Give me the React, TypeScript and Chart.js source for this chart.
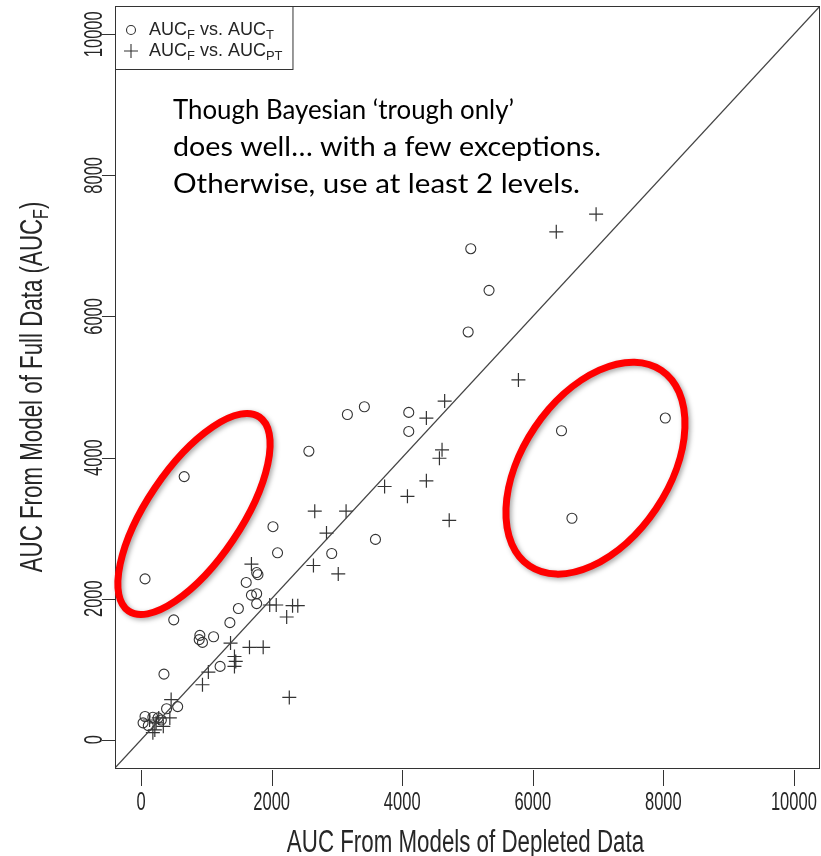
import React, { useEffect, useRef } from "react";
import { Chart, registerables } from "chart.js";

Chart.register(...registerables);

// AUC_F vs. AUC_T (open circles)
const circleX = [60, 660, 500, 350, 1360, 1490, 1770, 1690, 1770, 1610, 1770, 1790, 2020, 2090, 2570, 3160, 3420, 4100, 4100, 2920, 3590, 5050, 5330, 5010, 6440, 8030, 6600, 900, 890, 940, 1110, 1210, 560, 390, 60, 30, 110, 180, 260, 310];
const circleY = [2280, 3730, 1700, 930, 1660, 1860, 1930, 2050, 2070, 2230, 2370, 2340, 3020, 2650, 4090, 4610, 4720, 4640, 4370, 2640, 2840, 6960, 6370, 5780, 4380, 4560, 3140, 1480, 1420, 1380, 1460, 1040, 470, 440, 330, 240, 200, 320, 310, 280];

// AUC_F vs. AUC_PT (plus signs)
const crossX = [6970, 6360, 5780, 4650, 4370, 4610, 4570, 4370, 4080, 3730, 4720, 2660, 3140, 2840, 2640, 3020, 1690, 1970, 2070, 2320, 2400, 2230, 1370, 1660, 1870, 1430, 1450, 1430, 1030, 940, 460, 2270, 440, 130, 230, 210, 340, 180, 270];
const crossY = [7450, 7200, 5100, 4800, 4560, 4110, 3990, 3670, 3450, 3590, 3110, 3240, 3240, 2930, 2470, 2350, 2490, 1910, 1910, 1900, 1900, 1740, 1370, 1310, 1310, 1180, 1110, 1040, 960, 780, 570, 600, 310, 280, 240, 140, 190, 100, 310];

const identityLine = [-400, 10400];
const axisMin = -400;
const axisMax = 10400;
const tickValues = [0, 2000, 4000, 6000, 8000, 10000];
const tickLabels = ["0", "2000", "4000", "6000", "8000", "10000"];

const xTitle = "AUC From Models of Depleted Data";
const yTitleParts = [
  { t: "AUC From Model of Full Data (AUC" },
  { t: "F", sub: true },
  { t: ")" },
];
const legendRows = [
  { symbol: "circle", parts: [{ t: "AUC" }, { t: "F", sub: true }, { t: " vs. AUC" }, { t: "T", sub: true }] },
  { symbol: "cross", parts: [{ t: "AUC" }, { t: "F", sub: true }, { t: " vs. AUC" }, { t: "PT", sub: true }] },
];
const noteLines = [
  "Though Bayesian \u2018trough only\u2019",
  "does well\u2026 with a few exceptions.",
  "Otherwise, use at least 2 levels.",
];
// highlight ellipses: centre in data units
const ellipseCX = [810, 6960];
const ellipseCY = [3200, 3850];

const AXIS_FONT = "'Liberation Sans', Arial, sans-serif";
const INK = "#262626";

type Part = { t: string; sub?: boolean };

function richWidth(ctx: CanvasRenderingContext2D, parts: Part[], size: number) {
  let w = 0;
  for (const p of parts) {
    ctx.font = `${p.sub ? size * 0.72 : size}px ${AXIS_FONT}`;
    w += ctx.measureText(p.t).width;
  }
  return w;
}

function drawRich(ctx: CanvasRenderingContext2D, parts: Part[], x: number, y: number, size: number) {
  let cx = x;
  ctx.textAlign = "left";
  ctx.textBaseline = "middle";
  for (const p of parts) {
    ctx.font = `${p.sub ? size * 0.72 : size}px ${AXIS_FONT}`;
    ctx.fillText(p.t, cx, p.sub ? y + size * 0.3 : y);
    cx += ctx.measureText(p.t).width;
  }
}

const overlay = {
  id: "overlay",
  afterDraw(chart: any) {
    const { ctx, chartArea: ca, scales } = chart;
    const xs = scales.x;
    const ys = scales.y;
    ctx.save();

    // plot box
    ctx.strokeStyle = "#333";
    ctx.lineWidth = 1;
    ctx.strokeRect(ca.left + 0.5, ca.top + 0.5, ca.right - ca.left - 1, ca.bottom - ca.top);

    // ticks
    ctx.beginPath();
    tickValues.forEach((v) => {
      const px = Math.round(xs.getPixelForValue(v)) + 0.5;
      ctx.moveTo(px, ca.bottom + 2);
      ctx.lineTo(px, ca.bottom + 18);
      const py = Math.round(ys.getPixelForValue(v)) + 0.5;
      ctx.moveTo(ca.left, py);
      ctx.lineTo(ca.left - 13, py);
    });
    ctx.stroke();

    // tick labels (narrow look)
    ctx.fillStyle = INK;
    const tSize = 25;
    const tScale = 0.66;
    ctx.font = `${tSize}px ${AXIS_FONT}`;
    ctx.textAlign = "center";
    ctx.textBaseline = "middle";
    tickValues.forEach((v, i) => {
      const px = xs.getPixelForValue(v);
      ctx.save();
      ctx.translate(px, ca.bottom + 35);
      ctx.scale(tScale, 1);
      ctx.fillText(tickLabels[i], 0, 0);
      ctx.restore();
      const py = ys.getPixelForValue(v);
      ctx.save();
      ctx.translate(ca.left - 20, py);
      ctx.rotate(-Math.PI / 2);
      ctx.scale(tScale, 1);
      ctx.fillText(tickLabels[i], 0, 0);
      ctx.restore();
    });

    // axis titles
    const tiSize = 31;
    const tiScale = 0.72;
    ctx.save();
    ctx.translate((ca.left + ca.right) / 2 - 2, ca.bottom + 75);
    ctx.scale(tiScale, 1);
    ctx.font = `${tiSize}px ${AXIS_FONT}`;
    ctx.textAlign = "center";
    ctx.fillText(xTitle, 0, 0);
    ctx.restore();

    ctx.save();
    ctx.translate(ca.left - 82, (ca.top + ca.bottom) / 2);
    ctx.rotate(-Math.PI / 2);
    ctx.scale(tiScale, 1);
    const yw = richWidth(ctx, yTitleParts, tiSize);
    drawRich(ctx, yTitleParts, -yw / 2, 0, tiSize);
    ctx.restore();

    // legend
    const lgSize = 18;
    const lgTop = ca.top;
    const rowGap = 21;
    const rowY0 = lgTop + 24;
    let maxW = 0;
    legendRows.forEach((r) => (maxW = Math.max(maxW, richWidth(ctx, r.parts, lgSize))));
    const boxW = 34 + maxW + 10;
    const boxH = 24 + rowGap + 18;
    ctx.fillStyle = "#fff";
    ctx.fillRect(ca.left + 0.5, lgTop + 0.5, boxW, boxH);
    ctx.strokeStyle = "#333";
    ctx.lineWidth = 1;
    ctx.strokeRect(ca.left + 0.5, lgTop + 0.5, boxW, boxH);
    legendRows.forEach((r, i) => {
      const y = rowY0 + i * rowGap;
      const sx = ca.left + 16;
      ctx.strokeStyle = "#333";
      ctx.lineWidth = 1.1;
      ctx.beginPath();
      if (r.symbol === "circle") {
        ctx.arc(sx, y, 4.5, 0, Math.PI * 2);
      } else {
        ctx.moveTo(sx - 7, y);
        ctx.lineTo(sx + 7, y);
        ctx.moveTo(sx, y - 7);
        ctx.lineTo(sx, y + 7);
      }
      ctx.stroke();
      ctx.fillStyle = INK;
      drawRich(ctx, r.parts, ca.left + 34, y, lgSize);
    });

    // annotation text
    ctx.fillStyle = "#000";
    const nSize = 26;
    const noteWidths = [341, 428, 407];
    ctx.font = `${nSize}px Lato, 'Open Sans', sans-serif`;
    ctx.textAlign = "left";
    ctx.textBaseline = "alphabetic";
    noteLines.forEach((line, i) => {
      const w = ctx.measureText(line).width;
      ctx.save();
      ctx.translate(173, 119 + i * 37);
      ctx.scale(noteWidths[i] / w, 1);
      ctx.fillText(line, 0, 0);
      ctx.restore();
    });

    // red highlight ellipses
    const ellA = [117, 118];
    const ellB = [47, 73];
    const ellRot = [-56, -56];
    ellipseCX.forEach((cxv, i) => {
      const cx = xs.getPixelForValue(cxv);
      const cy = ys.getPixelForValue(ellipseCY[i]);
      ctx.save();
      ctx.shadowColor = "rgba(0,0,0,0.35)";
      ctx.shadowBlur = 5;
      ctx.shadowOffsetX = 2;
      ctx.shadowOffsetY = 2;
      ctx.strokeStyle = "#ff0000";
      ctx.lineWidth = 7;
      ctx.beginPath();
      ctx.ellipse(cx, cy, ellA[i], ellB[i], (ellRot[i] * Math.PI) / 180, 0, Math.PI * 2);
      ctx.stroke();
      ctx.restore();
    });

    ctx.restore();
  },
};

export default function App() {
  const ref = useRef<HTMLCanvasElement | null>(null);
  useEffect(() => {
    document.body.style.margin = "0";
    const canvas = ref.current;
    if (!canvas) return;
    const chart = new Chart(canvas, {
      type: "scatter",
      data: {
        datasets: [
          {
            type: "line",
            data: identityLine.map((v) => ({ x: v, y: v })),
            borderColor: "#444",
            borderWidth: 1.2,
            pointRadius: 0,
            fill: false,
          } as any,
          {
            data: circleX.map((x, i) => ({ x, y: circleY[i] })),
            pointStyle: "circle",
            pointRadius: 5,
            backgroundColor: "rgba(0,0,0,0)",
            borderColor: "#333",
            borderWidth: 1.1,
          },
          {
            data: crossX.map((x, i) => ({ x, y: crossY[i] })),
            pointStyle: "cross",
            pointRadius: 7,
            borderColor: "#333",
            borderWidth: 1.2,
          },
        ],
      },
      options: {
        animation: false,
        responsive: false,
        devicePixelRatio: 1,
        layout: { autoPadding: false, padding: { left: 115, top: 6, right: 1, bottom: 88 } },
        plugins: { legend: { display: false }, tooltip: { enabled: false } },
        scales: {
          x: { type: "linear", min: axisMin, max: axisMax, display: false },
          y: { type: "linear", min: axisMin, max: axisMax, display: false },
        },
      },
      plugins: [overlay],
    });
    return () => chart.destroy();
  }, []);
  return (
    <div style={{ position: "relative", width: 821, height: 856, background: "#fff" }}>
      <canvas ref={ref} width={821} height={856} style={{ display: "block" }} />
    </div>
  );
}
